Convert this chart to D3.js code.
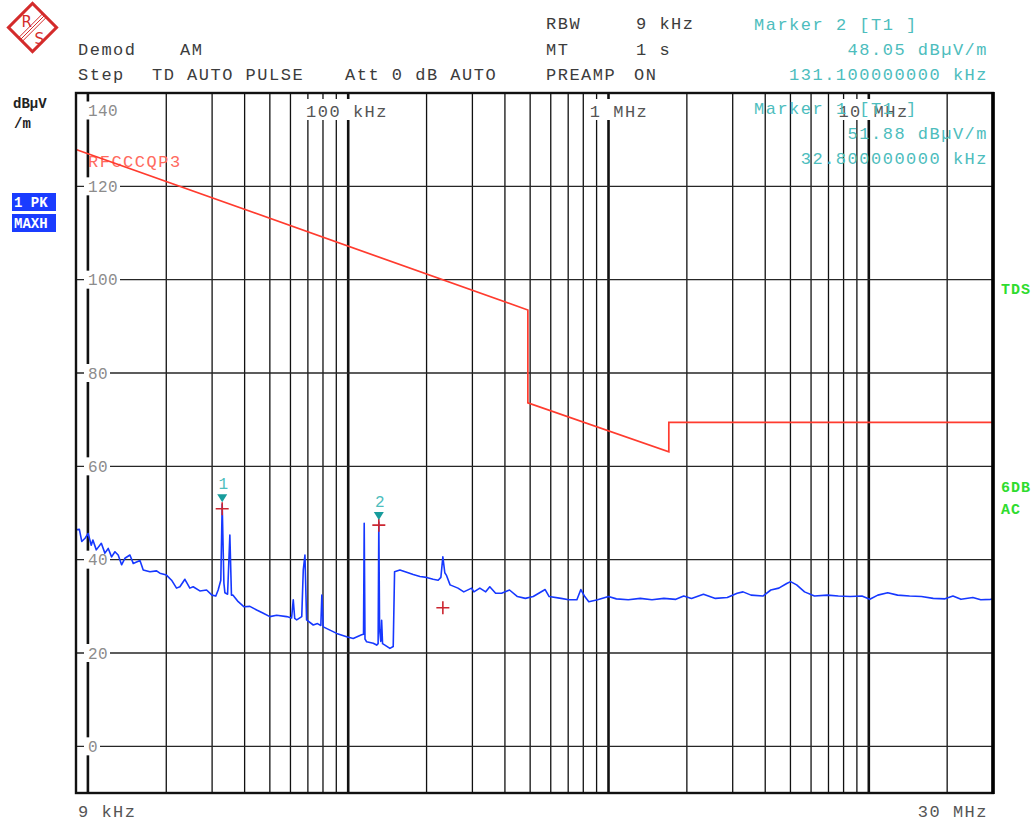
<!DOCTYPE html>
<html>
<head>
<meta charset="utf-8">
<script src="https://cdn.jsdelivr.net/npm/d3@7"></script>
<style>
  body { margin: 0; background: #fff; }
  text { font-family: "Liberation Mono", monospace; }
</style>
</head>
<body>
<div id="chart"></div>
<script>
const traceFreqKHz = [9.0, 9.27, 9.47, 9.75, 10.02, 10.3, 10.45, 10.77, 11.26, 11.62, 11.97, 12.33, 12.7, 13.07,
  13.47, 13.87, 14.5, 14.93, 15.85, 16.31, 17.31, 18.36, 18.9, 20.03, 20.96, 21.9, 22.56, 23.58, 24.64, 25.37,
  26.92, 28.57, 29.96, 31.0, 31.65, 32.4, 32.8, 33.3, 33.6, 34.4, 35.1, 35.6, 36.1, 37.8, 39.8, 41.9, 44.5,
  47.2, 50.0, 53.1, 58.0, 60.6, 61.5, 62.3, 63.4, 66.3, 67.2, 68.2, 69.2, 73.4, 76.2, 78.5, 79.2, 80.2, 85.1,
  90.3, 98.6, 104.5, 112.6, 114.5, 115.2, 116.0, 117.7, 124.8, 128.6, 130.3, 131.1, 132.0, 133.4, 134.4,
  135.5, 138.4, 144.6, 148.9, 150.7, 158, 167.7, 177.7, 188.6, 200, 212, 221.6, 227, 231, 235, 238.2, 246.2,
  264, 278, 297.8, 304, 320.4, 337.5, 349.8, 368.4, 388.5, 416.6, 446.8, 479.2, 513.8, 571, 591.5, 657, 704,
  756, 783, 810.7, 840, 908, 1000, 1072, 1191, 1324, 1469, 1632, 1814, 1945, 2084, 2316, 2574, 2860, 3121,
  3288, 3529, 3919, 4203, 4512, 4838, 5005, 5281, 5665, 6183, 6935, 7637, 8476, 9411, 10089, 10830, 11820,
  12900, 14340, 15930, 17680, 19630, 21050, 22600, 25100, 26920, 29360, 30000];
const traceLevel = [46.4, 46.5, 43.9, 44.6, 45.6, 43.1, 44.2, 42.1, 43.5, 41.4, 42.4, 40.6, 41.7, 41.0,
  38.9, 40.3, 41.0, 39.2, 39.8, 37.8, 37.4, 37.6, 37.1, 36.7, 35.6, 33.9, 34.2, 35.8, 33.9, 34.2,
  33.3, 33.5, 32.4, 32.2, 33.5, 35.6, 51.88, 35.0, 32.9, 32.6, 45.3, 32.4, 32.4, 31.0, 29.9, 30.0, 29.2,
  28.5, 27.8, 28.1, 27.8, 27.5, 31.4, 27.4, 27.1, 27.8, 37.8, 41.0, 27.1, 26.0, 26.3, 25.9, 32.4, 25.6, 24.9,
  24.2, 23.5, 23.1, 23.9, 24.0, 47.8, 23.0, 22.4, 22.1, 21.7, 22.0, 48.05, 25.0, 22.5, 27.0,
  22.0, 21.7, 21.0, 21.4, 37.4, 37.8, 37.3, 36.8, 36.4, 36.2, 35.8, 35.6, 36.2, 40.6, 37.2, 36.7, 34.6,
  33.9, 33.1, 33.9, 33.1, 33.9, 33.1, 34.2, 32.8, 32.8, 33.5, 32.1, 31.7, 32.1, 33.6, 32.1, 31.7, 31.4,
  31.4, 33.6, 32.1, 31.0, 31.4, 32.1, 31.6, 31.4, 31.7, 31.4, 31.7, 31.5, 32.2, 31.7, 32.6, 31.7, 31.9, 32.8,
  33.1, 32.4, 32.2, 33.5, 33.9, 34.9, 35.3, 34.6, 33.1, 32.2, 32.4, 32.2, 32.1, 32.2, 31.5, 32.4, 32.9,
  32.4, 32.2, 32.1, 31.7, 31.6, 32.2, 31.5, 31.9, 31.4, 31.5, 31.6];

// limit line RFCCCQP3
const limitFreqKHz = [9, 490, 490, 1705, 1705, 30000];
const limitLevel = [127.9, 93.5, 73.6, 63.1, 69.4, 69.4];

// markers and quasi peak crosses
const markerNames = ["1", "2"];
const markerFreqKHz = [32.8, 131.1];
const markerLevel = [51.88, 48.05];
const crossFreqKHz = [32.8, 131.1, 231];
const crossLevel = [50.9, 47.4, 29.7];

const levelTicks = [0, 20, 40, 60, 80, 100, 120];
const topLevel = 140;
const freqLabelKHz = [100, 1000, 10000];
const freqLabelText = ["100 kHz", "1 MHz", "10 MHz"];

const width = 1036, height = 823;
const charW = 11.7;

const svg = d3.select("#chart").append("svg")
  .attr("width", width).attr("height", height);

const x = d3.scaleLog().domain([9, 30000]).range([76, 993]);
const y = d3.scaleLinear().domain([-10, 140]).range([793, 93]);

const hdr = (t, px, py, color, anchor) =>
  svg.append("text").attr("x", px).attr("y", py)
    .attr("font-size", 17).attr("letter-spacing", 1.5)
    .attr("fill", color || "#3c3c3c")
    .attr("text-anchor", anchor || "start")
    .text(t);

/* logo */
const logo = svg.append("g").attr("transform", "translate(32.5,27.5)");
logo.append("rect").attr("x", -17).attr("y", -17).attr("width", 34).attr("height", 34)
  .attr("transform", "rotate(45)").attr("fill", "none")
  .attr("stroke", "#d42b2b").attr("stroke-width", 3);
[-2.6, 0, 2.6].forEach((d) => {
  const o = d / Math.SQRT2;
  logo.append("line")
    .attr("x1", 12 + o).attr("y1", -12 + o).attr("x2", -12 + o).attr("y2", 12 + o)
    .attr("stroke", "#d42b2b").attr("stroke-width", 1);
});
logo.append("text").attr("x", -11).attr("y", -1).attr("font-size", 15)
  .style("font-family", "DejaVu Sans, sans-serif").attr("fill", "#d42b2b").text("R");
logo.append("text").attr("x", 2).attr("y", 16).attr("font-size", 15)
  .style("font-family", "DejaVu Sans, sans-serif").attr("fill", "#d42b2b").text("S");

/* header */
hdr("Demod", 78, 55);
hdr("AM", 180, 55);
hdr("Step", 78, 80);
hdr("TD AUTO PULSE", 152, 80);
hdr("Att  0 dB AUTO", 345, 80);
hdr("RBW", 546, 29);
hdr("9 kHz", 636, 29);
hdr("MT", 546, 55);
hdr("1 s", 636, 55);
hdr("PREAMP", 546, 80);
hdr("ON", 634, 80);

/* side labels */
svg.append("text").attr("x", 13).attr("y", 108).attr("font-size", 14)
  .attr("font-weight", "bold").attr("fill", "#222").text("dBµV");
svg.append("text").attr("x", 14).attr("y", 128).attr("font-size", 14)
  .attr("font-weight", "bold").attr("fill", "#222").text("/m");
["1 PK", "MAXH"].forEach((t, i) => {
  svg.append("rect").attr("x", 12).attr("y", 193 + i * 21).attr("width", 44).attr("height", 18)
    .attr("fill", "#1a3cff");
  svg.append("text").attr("x", 14).attr("y", 207 + i * 21).attr("font-size", 14)
    .attr("font-weight", "bold").attr("fill", "#fff").attr("xml:space", "preserve").text(t);
});
[["TDS", 294], ["6DB", 492], ["AC", 514]].forEach(([t, py]) => {
  svg.append("text").attr("x", 1001).attr("y", py).attr("font-size", 15)
    .attr("letter-spacing", 1).attr("font-weight", "bold").attr("fill", "#2fdc2f").text(t);
});

/* grid */
const gridF = x.ticks().filter((f) => f > 9 && f < 30000);
const isDecade = (f) => Math.abs(Math.log10(f) - Math.round(Math.log10(f))) < 1e-9;
svg.append("g").selectAll("line").data(gridF).join("line")
  .attr("x1", (d) => x(d)).attr("x2", (d) => x(d))
  .attr("y1", y(140)).attr("y2", y(-10))
  .attr("stroke", "#111")
  .attr("stroke-width", (d) => (isDecade(d) ? 2.6 : 1.3));

svg.append("g").selectAll("line").data(levelTicks).join("line")
  .attr("x1", x(9)).attr("x2", x(30000))
  .attr("y1", (d) => y(d)).attr("y2", (d) => y(d))
  .attr("stroke", "#262626").attr("stroke-width", 1.3);

/* level labels with white boxes */
const lvl = svg.append("g");
levelTicks.concat([topLevel]).forEach((v) => {
  const t = String(v);
  const cy = v === topLevel ? 110.5 : y(v);
  lvl.append("rect").attr("x", 84).attr("y", cy - 9)
    .attr("width", 6 + t.length * 10).attr("height", 18).attr("fill", "#fff");
  lvl.append("text").attr("x", 88).attr("y", cy + 5.5)
    .attr("font-size", 16).attr("letter-spacing", 0.4).attr("fill", "#8c8c8c").text(t);
});

/* frequency labels along the top */
freqLabelKHz.forEach((f, i) => {
  const t = freqLabelText[i];
  const digits = t.split(" ")[0].length;
  const sx = x(f) - (digits + 0.6) * charW;
  svg.append("rect").attr("x", sx - 3).attr("y", 99).attr("width", t.length * charW + 4)
    .attr("height", 21).attr("fill", "#fff");
  svg.append("text").attr("x", sx).attr("y", 117).attr("font-size", 17)
    .attr("letter-spacing", 1.5).attr("fill", "#555").attr("xml:space", "preserve").text(t);
});

hdr("9  kHz", 78, 817, "#555");
hdr("30  MHz", 988, 817, "#555", "end");

/* limit line */
svg.append("text").attr("x", 88).attr("y", 167).attr("font-size", 17)
  .attr("letter-spacing", 1.5).attr("fill", "#ff6a5e").text("RFCCCQP3");

const limitLine = d3.line().x((d) => x(d[0])).y((d) => y(d[1]));
svg.append("path")
  .datum(limitFreqKHz.map((f, i) => [f, limitLevel[i]]))
  .attr("d", limitLine)
  .attr("fill", "none").attr("stroke", "#ff3b2e").attr("stroke-width", 1.7);

/* trace */
svg.append("clipPath").attr("id", "plotClip").append("rect")
  .attr("x", 76).attr("y", 93).attr("width", 917).attr("height", 700);
const traceLine = d3.line().x((d) => x(d[0])).y((d) => y(d[1]));
svg.append("path")
  .datum(traceFreqKHz.map((f, i) => [f, traceLevel[i]]))
  .attr("clip-path", "url(#plotClip)")
  .attr("d", traceLine)
  .attr("fill", "none").attr("stroke", "#1638ff").attr("stroke-width", 1.6)
  .attr("stroke-linejoin", "round");

/* crosses */
crossFreqKHz.forEach((f, i) => {
  const cx = x(f), cy = y(crossLevel[i]);
  svg.append("path")
    .attr("d", `M${cx - 6.5},${cy}H${cx + 6.5}M${cx},${cy - 6.5}V${cy + 6.5}`)
    .attr("stroke", "#cc2630").attr("stroke-width", 1.6);
});

/* markers */
markerFreqKHz.forEach((f, i) => {
  const mx = x(f), tip = y(markerLevel[i]) - 2;
  svg.append("path")
    .attr("d", `M${mx - 5},${tip - 8}L${mx + 5},${tip - 8}L${mx},${tip}Z`)
    .attr("fill", "#179c9c");
  svg.append("text").attr("x", mx + 1).attr("y", tip - 13).attr("font-size", 16)
    .attr("text-anchor", "middle").attr("fill", "#4dbdbd").text(markerNames[i]);
});

/* frame */
svg.append("rect").attr("x", 76).attr("y", 93).attr("width", 917).attr("height", 700)
  .attr("fill", "none").attr("stroke", "#111").attr("stroke-width", 2.4);
svg.append("line").attr("x1", 993).attr("x2", 993).attr("y1", 92).attr("y2", 794)
  .attr("stroke", "#000").attr("stroke-width", 3.6);

/* marker readouts */
const cyan = "#4dbdbd";
hdr("Marker 2 [T1 ]", 754, 30, cyan).attr("xml:space", "preserve");
hdr("48.05 dBµV/m", 988, 55, cyan, "end");
hdr("131.100000000 kHz", 988, 80, cyan, "end");
hdr("Marker 1 [T1 ]", 754, 114, cyan).attr("xml:space", "preserve");
hdr("51.88 dBµV/m", 988, 139, cyan, "end");
hdr("32.800000000 kHz", 988, 164, cyan, "end");
</script>
</body>
</html>
